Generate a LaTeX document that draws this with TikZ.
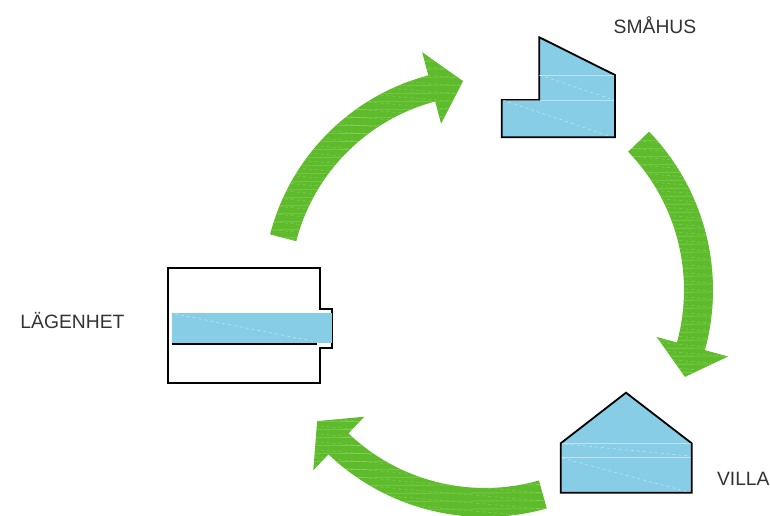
\documentclass[tikz,border=0pt]{standalone}
\usepackage{fontspec}
\setmainfont{Liberation Sans}
\definecolor{arrowgreen}{RGB}{94,187,44}
\definecolor{hatchgreen}{RGB}{150,215,110}
\definecolor{houseblue}{RGB}{135,205,230}
\definecolor{labelgray}{RGB}{51,51,51}
\tikzset{
  house/.style={fill=houseblue,draw=black,line width=1.8pt,line join=miter},
  flat/.style={fill=white,draw=black,line width=1.8pt,line join=miter},
  faint/.style={draw=white,opacity=0.45,line width=0.6pt},
  fainthatch/.style={draw=hatchgreen,opacity=0.6,line width=0.6pt},
  lbl/.style={font=\fontsize{19.3}{21}\selectfont,text=labelgray,anchor=base,inner sep=0pt},
  cyclearrow/.style={fill=arrowgreen}
}
\begin{document}
\begin{tikzpicture}[x=1pt,y=1pt]
\useasboundingbox (0,0) rectangle (770,516);
\fill[white] (0,0) rectangle (770,516);

% ---- cycle arrows (centre of the cycle at (485,226)) ----
\begin{scope}[shift={(485,226)}]
  % arrow 1: Lägenhet -> Småhus
  \path[cyclearrow,save path=\arrA]
    (165.5:195pt) arc[start angle=165.5,end angle=104.8,radius=195pt]
    -- (104.8:172pt) -- (96:210pt) -- (104.8:246pt) -- (104.8:222pt)
    arc[start angle=104.8,end angle=165.5,radius=222pt] -- cycle;
  % arrow 2: Småhus -> Villa
  \path[cyclearrow,save path=\arrB]
    (44:199pt) arc[start angle=44,end angle=-15.3,radius=199pt]
    -- (-15.3:178pt) -- (-23.5:218pt) -- (-15.3:252pt) -- (-15.3:228pt)
    arc[start angle=-15.3,end angle=44,radius=228pt] -- cycle;
  % arrow 3: Villa -> Lägenhet
  \path[cyclearrow,save path=\arrC]
    (-74.2:198pt) arc[start angle=-74.2,end angle=-133.6,radius=198pt]
    -- (-133.6:175pt) -- (-142:213pt) -- (-133.6:249pt) -- (-133.6:227pt)
    arc[start angle=-133.6,end angle=-74.2,radius=227pt] -- cycle;
  % faint hatching inside the arrows
  \foreach \p in {\arrA,\arrB,\arrC}{
    \begin{scope}
      \clip[use path=\p];
      \foreach \yy in {-260,-252,...,260}{
        \draw[fainthatch] (-260,\yy) -- (260,\yy+2);
        \draw[fainthatch,dashed] (-260,\yy+4) -- (260,\yy-40);
      }
    \end{scope}
  }
\end{scope}

% ---- Småhus ----
\draw[house] (539.3,478.7) -- (615,441) -- (615,378.7) -- (501.7,378.7)
  -- (501.7,416) -- (539.3,416) -- cycle;
\draw[faint] (539.3,441) -- (614,441);
\draw[faint] (502.7,416) -- (614,416);
\draw[faint,dashed] (539.3,441) -- (614,416);
\draw[faint,dashed] (502.7,416) -- (609,380);

% ---- Lägenhet ----
\draw[flat] (168.3,247.7) -- (320,247.7) -- (320,207) -- (331.7,207)
  -- (331.7,168) -- (320,168) -- (320,132.7) -- (168.3,132.7) -- cycle;
\fill[houseblue] (171.7,202.7) rectangle (331.7,172.7);
\draw[faint,dashed] (175,202) -- (320,173.5);
\draw[black,line width=1.3pt] (171.7,172) -- (316.7,172);

% ---- Villa ----
\draw[house] (626,123.3) -- (691.7,72.7) -- (691.7,23.3) -- (560.7,23.3)
  -- (560.7,72.7) -- cycle;
\draw[faint] (561.7,72.7) -- (690.7,72.7);
\draw[faint] (561.7,59) -- (690.7,59);
\draw[faint,dashed] (565,72) -- (690,60);
\draw[faint,dashed] (562,58) -- (686,24.5);

% ---- labels ----
\node[lbl] (smahus) at (655,482.7) {SMÅHUS};
\node[lbl] (lagenhet) at (72.5,187.7) {LÄGENHET};
\node[lbl] (villa) at (743.3,30) {VILLA};
\end{tikzpicture}
\end{document}
